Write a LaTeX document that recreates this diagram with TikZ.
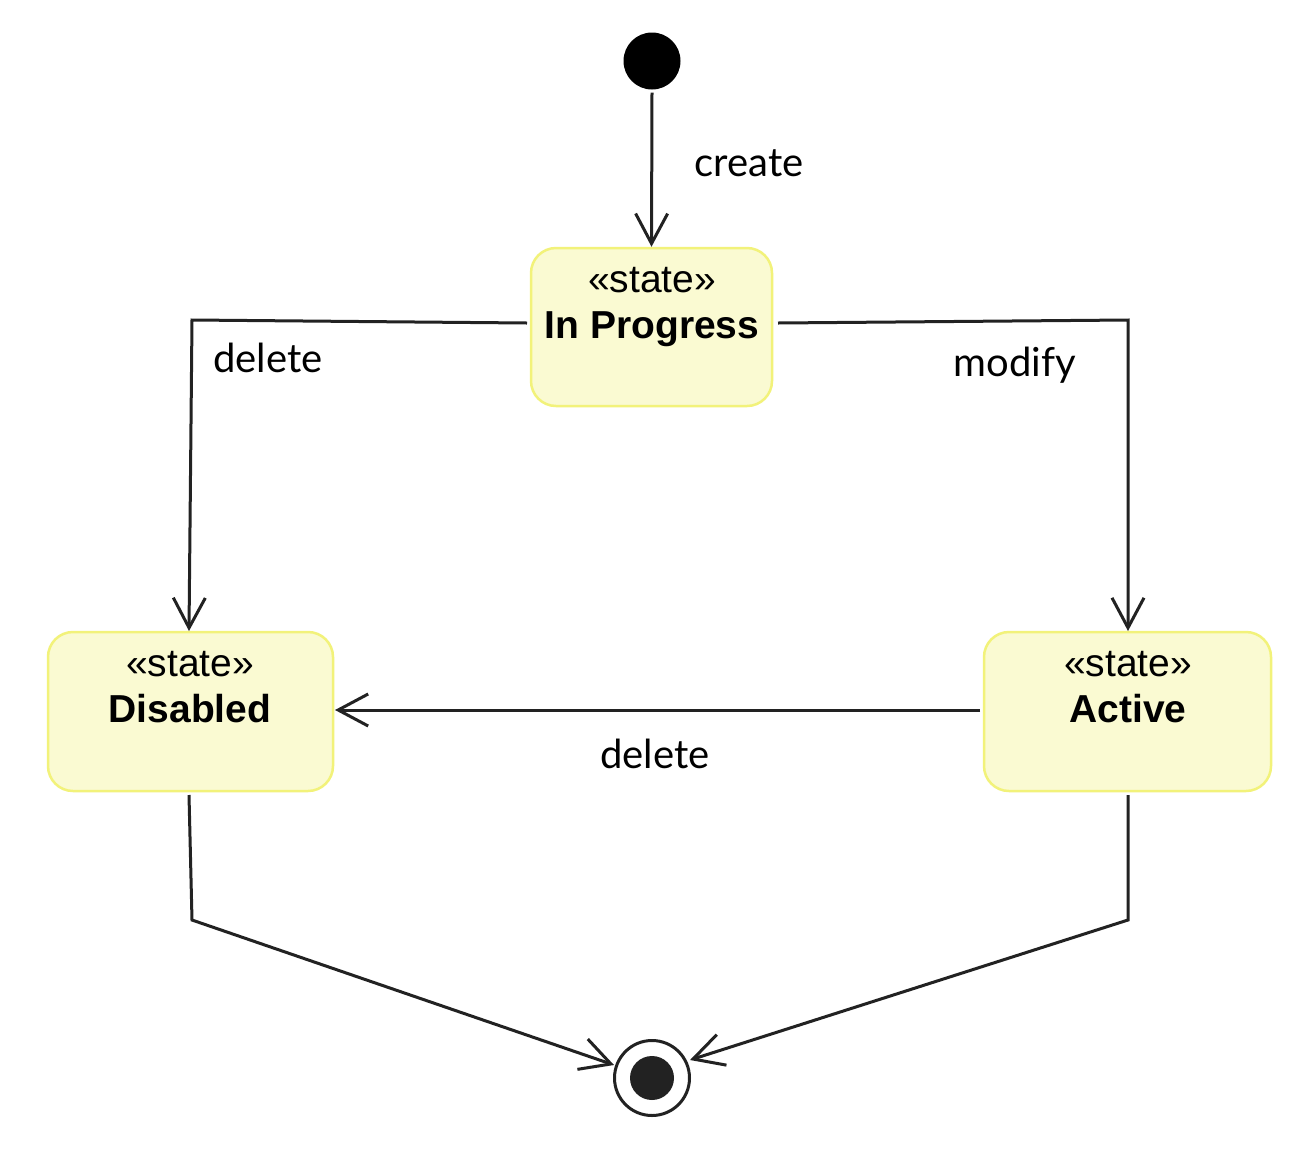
\documentclass[tikz,border=0pt]{standalone}
\usepackage{fontspec}
\setmainfont{Liberation Sans}
\newfontfamily\labelfont{Lato}
\usetikzlibrary{arrows.meta}
\definecolor{boxfill}{HTML}{FAFAD2}
\definecolor{boxline}{HTML}{F2F27A}
\definecolor{ink}{HTML}{222222}
\tikzset{
  statebox/.style={draw=boxline, fill=boxfill, line width=2.5pt, rounded corners=25pt, inner sep=0pt},
  statetext/.style={align=center, font=\fontsize{39}{46}\selectfont, inner sep=0pt, anchor=base},
  trans/.style={draw=ink, line width=3pt, -{Straight Barb[length=30pt,width=32pt,line width=3pt]}},
  translabel/.style={font=\labelfont\fontsize{40}{44}\selectfont, inner sep=0pt, text=black}
}
\begin{document}
\begin{tikzpicture}[x=1pt,y=-1pt]
\useasboundingbox[fill=white] (0,0) rectangle (1310,1160);
% initial
\node[circle, fill=black, minimum size=57pt, inner sep=0pt] (init) at (652,61) {};
% boxes
\node[statebox, minimum width=241pt, minimum height=158pt] (ip) at (651.5,327) {};
\node[statebox, minimum width=285pt, minimum height=159pt] (dis) at (190.5,711.5) {};
\node[statebox, minimum width=287pt, minimum height=159pt] (act) at (1127.5,711.5) {};
\node[statetext] (iptxt) at (652,338) {«state»\\\textbf{In Progress}};
\node[statetext] (distxt) at (190,722) {«state»\\\textbf{Disabled}};
\node[statetext] (acttxt) at (1128,722) {«state»\\\textbf{Active}};
% final
\node[circle, draw=ink, fill=white, line width=3pt, minimum size=75pt, inner sep=0pt] (fin) at (652,1078) {};
\node[circle, fill=ink, minimum size=44pt, inner sep=0pt] (finin) at (fin.center) {};
% coordinates
\coordinate (c1s) at (527,323);
\coordinate (c1m) at (192,320);
\coordinate (c1e) at (189,631);
\coordinate (c2s) at (778,323);
\coordinate (c2m) at (1128,320);
\coordinate (c2e) at (1128,631);
\coordinate (c3s) at (980,710);
\coordinate (c3e) at (335,710);
\coordinate (c4s) at (189,795);
\coordinate (c4m) at (192,920);
\coordinate (c4e) at (614,1065);
\coordinate (c5s) at (1128,795);
\coordinate (c5m) at (1128,920);
\coordinate (c5e) at (690,1060);
% transitions
\draw[trans] (init.south) ++(0,3) -- (ip.north);
\draw[trans] (c1s) -- (c1m) -- (c1e);
\draw[trans] (c2s) -- (c2m) -- (c2e);
\draw[trans] (c3s) -- (c3e);
\draw[trans] (c4s) -- (c4m) -- (c4e);
\draw[trans] (c5s) -- (c5m) -- (c5e);
% labels
\node[translabel] (lcreate) at (749,163) {create};
\node[translabel] (ldel1) at (268,358) {delete};
\node[translabel] (lmod) at (1015,365) {modify};
\node[translabel] (ldel2) at (655,754) {delete};
\end{tikzpicture}
\end{document}
